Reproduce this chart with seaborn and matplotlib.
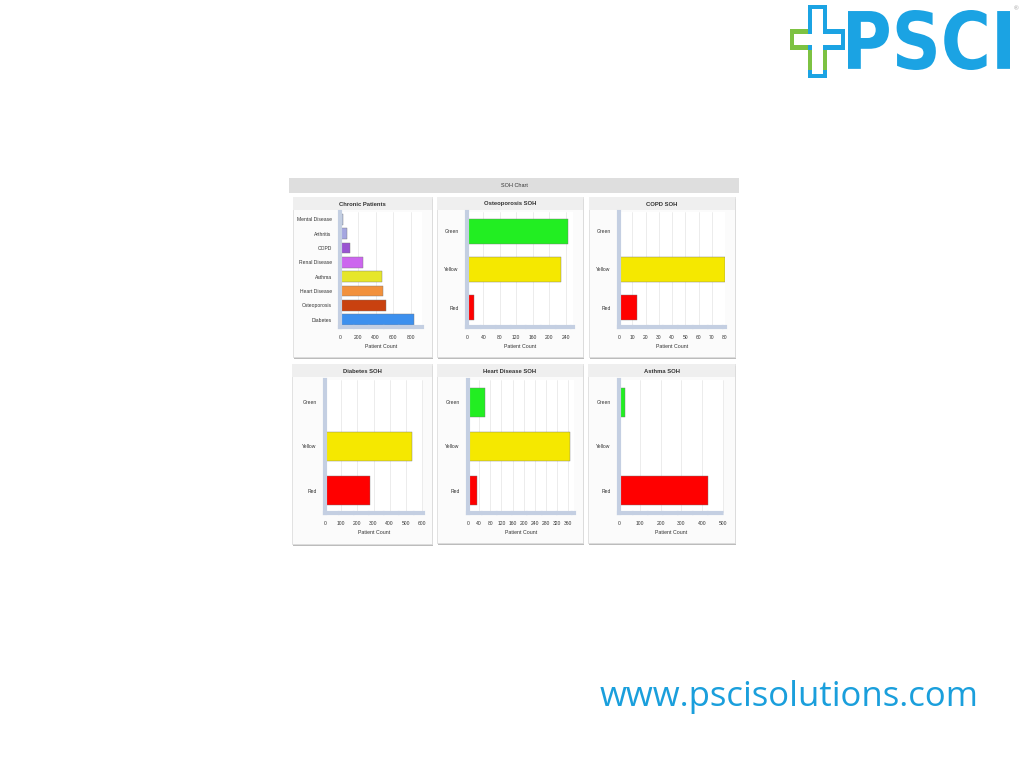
import numpy as np
import pandas as pd
import matplotlib
matplotlib.use("Agg")
import matplotlib.pyplot as plt
import seaborn as sns
from matplotlib.patches import Rectangle, PathPatch
from matplotlib.textpath import TextPath
from matplotlib.font_manager import FontProperties

sns.set_theme(style="white")
plt.rcParams['font.family'] = ['Liberation Sans', 'DejaVu Sans']

# data
chronic_names = ["Mental Disease", "Arthritis", "COPD", "Renal Disease", "Asthma",
                 "Heart Disease", "Osteoporosis", "Diabetes"]
chronic_counts = [38, 75, 113, 263, 473, 477, 515, 834]
chronic_colors = ["#b3c0dc", "#a5a6e0", "#9a55d2", "#cc66ee", "#e6e62a",
                  "#f2913c", "#c9410f", "#3d90ee"]

soh_levels = ["Green", "Yellow", "Red"]
soh_colors = ["#22ee22", "#f5e800", "#ff0000"]
osteo_soh = [246, 228, 18]
copd_soh = [0, 80, 13.5]
diabetes_soh = [0, 538, 281]
heart_soh = [60, 365, 33]
asthma_soh = [27, 0, 429]

W, H = 1024, 768
fig = plt.figure(figsize=(10.24, 7.68), dpi=100)
fig.patch.set_facecolor("white")


def fx(x):
    return x / W


def fy(y):
    return 1 - y / H


def box(x0, y0, x1, y1, **kw):
    fig.add_artist(Rectangle((fx(x0), fy(y1)), fx(x1 - x0), (y1 - y0) / H,
                             transform=fig.transFigure, zorder=-5, **kw))


# dashboard header
box(289, 178, 739, 193, facecolor="#dedede", edgecolor="none")
fig.text(fx(514), fy(185.5), "SOH Chart", ha="center", va="center", fontsize=4, color="#333333")


def panel(x0, y0, x1, y1, title):
    box(x0 + 1, y0 + 2, x1 + 1, y1 + 2, facecolor="#bcbcbc", edgecolor="none")
    box(x0, y0, x1, y1, facecolor="#fbfbfb", edgecolor="#dddddd", linewidth=0.6)
    box(x0, y0, x1, y0 + 13, facecolor="#efefef", edgecolor="none")
    fig.text(fx((x0 + x1) / 2), fy(y0 + 7), title, ha="center", va="center",
             fontsize=4.2, fontweight="bold", color="#333333")


def chart(px0, px1, py0, py1, names, values, colors, xmax, ticks, bar_w):
    ax = fig.add_axes([fx(px0), fy(py1), fx(px1 - px0), (py1 - py0) / H])
    df = pd.DataFrame({"name": names, "count": values})
    sns.barplot(data=df, x="count", y="name", hue="name", order=names,
                palette=dict(zip(names, colors)), orient="h", width=bar_w,
                legend=False, ax=ax, edgecolor="#777777", linewidth=0.3,
                saturation=1)
    ax.set_xlim(0, xmax)
    ax.set_xticks(ticks)
    ax.tick_params(axis="both", labelsize=3.6, length=0, pad=6, colors="#333333")
    ax.set_xlabel("Patient Count", fontsize=3.8, color="#333333", labelpad=3)
    ax.set_ylabel("")
    ax.set_facecolor("white")
    ax.grid(axis="x", color="#e4e4e4", linewidth=0.5)
    ax.set_axisbelow(True)
    for s in ["top", "right"]:
        ax.spines[s].set_visible(False)
    ax.spines["left"].set_color("#c4cfe2")
    ax.spines["left"].set_linewidth(3)
    ax.spines["bottom"].set_color("#c4cfe2")
    ax.spines["bottom"].set_linewidth(3)
    ax.spines["bottom"].set_linestyle((0, (3, 0.6)))
    return ax


# top row
panel(293, 197, 432, 357, "Chronic Patients")
chart(340, 422, 212, 327, chronic_names, chronic_counts, chronic_colors,
      920, [0, 200, 400, 600, 800], 0.75)

panel(437, 197, 583, 357, "Osteoporosis SOH")
chart(467, 573, 212, 327, soh_levels, osteo_soh, soh_colors,
      258, list(range(0, 241, 40)), 0.65)

panel(589, 197, 735, 357, "COPD SOH")
chart(619, 725, 212, 327, soh_levels, copd_soh, soh_colors,
      80, list(range(0, 81, 10)), 0.65)

# bottom row
panel(292, 364, 432, 544, "Diabetes SOH")
chart(325, 423, 380, 513, soh_levels, diabetes_soh, soh_colors,
      606, list(range(0, 601, 100)), 0.65)

panel(437, 364, 583, 543, "Heart Disease SOH")
chart(468, 574, 380, 513, soh_levels, heart_soh, soh_colors,
      380, list(range(0, 361, 40)), 0.65)

panel(588, 364, 735, 543, "Asthma SOH")
chart(619, 724, 380, 513, soh_levels, asthma_soh, soh_colors,
      505, list(range(0, 501, 100)), 0.65)

# logo: cross + condensed "PSCI"
blue = "#1ba3e3"
green = "#7dc242"
box(808, 5, 827, 78, facecolor=blue, edgecolor="none")
box(790, 29, 845, 50, facecolor=blue, edgecolor="none")
box(790, 29, 808, 50, facecolor=green, edgecolor="none")
box(808, 50, 827, 70, facecolor=green, edgecolor="none")
box(812, 9, 823, 74, facecolor="white", edgecolor="none")
box(794, 34, 841, 45, facecolor="white", edgecolor="none")

logo_ax = fig.add_axes([fx(848), fy(70), fx(162), 60 / H])
tp = TextPath((0, 0), "PSCI", size=1, prop=FontProperties(family="DejaVu Sans", weight="bold"))
ext = tp.get_extents()
logo_ax.add_patch(PathPatch(tp, facecolor=blue, edgecolor="none"))
logo_ax.set_xlim(ext.x0, ext.x1)
logo_ax.set_ylim(ext.y0, ext.y1)
logo_ax.axis("off")
fig.text(fx(1016), fy(9), "®", ha="center", va="center", fontsize=4.5, color="#999999")

# url
fig.text(fx(600), fy(706), "www.pscisolutions.com", ha="left", va="baseline",
         fontsize=25, color="#1a9fdc", family=["Open Sans", "DejaVu Sans"])

fig.savefig("out.png", dpi=100)
